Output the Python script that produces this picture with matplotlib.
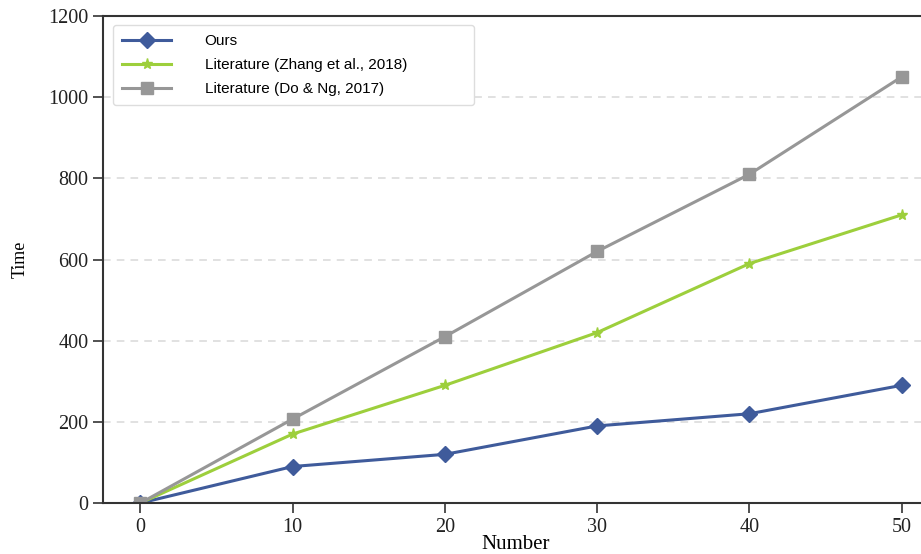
import matplotlib.pyplot as plt

numbers = [0, 10, 20, 30, 40, 50]
ours = [0, 90, 120, 190, 220, 290]
zhang = [0, 170, 290, 420, 590, 710]
do_ng = [0, 207, 410, 620, 810, 1050]

fig = plt.figure(figsize=(9.21, 5.54), dpi=100)
ax = fig.add_axes([0.112, 0.092, 0.895, 0.879])

ax.plot(numbers, ours, color='#3f5b9b', marker='D', markersize=8, linewidth=2.2, label='Ours')
ax.plot(numbers, zhang, color='#9dcf3c', marker='*', markersize=8, linewidth=2.2,
        label='Literature (Zhang et al., 2018)')
ax.plot(numbers, do_ng, color='#979797', marker='s', markersize=8, linewidth=2.2,
        label='Literature (Do & Ng, 2017)')

ax.set_xlim(-2.45, 51.7)
ax.set_ylim(0, 1200)
ax.set_xticks(numbers)
ax.set_yticks(range(0, 1201, 200))
ax.grid(axis='y', linestyle='--', color='#d9d9d9', linewidth=1.1, dashes=(5, 4))
ax.set_axisbelow(True)

for s in ['left', 'bottom', 'top']:
    ax.spines[s].set_linewidth(1.5)
    ax.spines[s].set_color('#333333')
ax.spines['right'].set_visible(False)

ax.tick_params(labelsize=14.5, length=7, width=1.2, color='#333333', labelcolor='#222222')
ax.tick_params(axis='x', pad=4)
for lbl in ax.get_xticklabels() + ax.get_yticklabels():
    lbl.set_family('Liberation Serif')

ax.set_xlabel('Number', fontsize=15, family='Liberation Serif', labelpad=-2)
ax.set_ylabel('Time', fontsize=13, family='Liberation Serif', labelpad=14)

leg = ax.legend(loc='upper left', bbox_to_anchor=(0.012, 0.9815, 0.438, 0.0), mode='expand',
                prop={'family': 'Liberation Sans', 'size': 11},
                handlelength=3.2, handletextpad=2.2, borderpad=0.6, labelspacing=0.65,
                frameon=True, fancybox=True, framealpha=1.0, edgecolor='#dddddd', borderaxespad=0)
leg.get_frame().set_linewidth(1.0)

fig.savefig('out.png', dpi=100)
